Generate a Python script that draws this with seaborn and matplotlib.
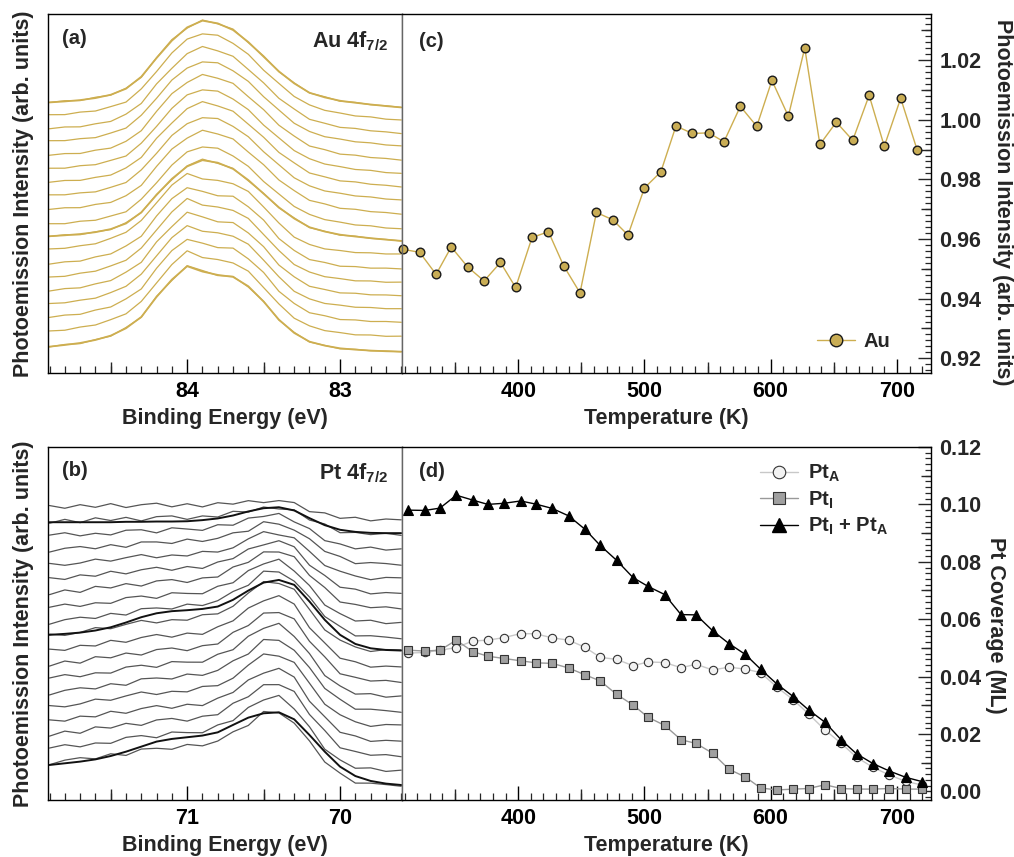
import numpy as np
import pandas as pd
import matplotlib
matplotlib.use("Agg")
import matplotlib.pyplot as plt
import seaborn as sns
from matplotlib.ticker import MultipleLocator, FormatStrFormatter
from matplotlib.lines import Line2D

sns.set_style("ticks")
plt.rcParams["font.family"] = ["Liberation Sans", "DejaVu Sans"]
plt.rcParams["font.weight"] = "bold"
plt.rcParams["axes.labelweight"] = "bold"
plt.rcParams["mathtext.fontset"] = "custom"
plt.rcParams["mathtext.bf"] = "Liberation Sans:bold"
plt.rcParams["mathtext.rm"] = "Liberation Sans:bold"

# ---------------- data: panel (a) Au 4f7/2 spectra ----------------
au_energy = [84.9, 84.8, 84.7, 84.6, 84.5, 84.4, 84.3, 84.2, 84.1, 84.0, 83.9, 83.8,
             83.7, 83.6, 83.5, 83.4, 83.3, 83.2, 83.1, 83.0, 82.9, 82.8, 82.7, 82.6]
au_profile_A = [0.375, 0.45, 0.55, 0.7, 0.95, 1.4, 2.3, 3.7, 5.0, 6.0, 6.5, 6.3,
                5.8, 4.9, 3.8, 2.7, 1.8, 1.1, 0.75, 0.5, 0.35, 0.22, 0.1, 0.0]
au_profile_B = [0.375, 0.5, 0.65, 0.875, 1.2, 1.75, 2.6, 4.1, 5.4, 6.4, 6.0, 5.75,
                5.6, 4.9, 3.75, 2.4, 1.4, 0.75, 0.45, 0.25, 0.15, 0.08, 0.03, 0.0]
au_baseline = [19.9, 18.95, 17.95, 17.0, 15.95, 14.95, 13.95, 12.95, 11.9, 10.8,
               9.9, 8.9, 7.8, 6.8, 5.8, 4.8, 3.8, 2.75, 1.6]
au_scale = [1.0, 1.0, 0.99, 0.98, 0.98, 0.97, 0.97, 0.96, 0.96, 0.95,
            0.93, 0.95, 0.96, 0.97, 0.97, 0.98, 0.98, 0.99, 1.0]
au_kind = ["A", "A", "A", "A", "A", "A", "A", "A", "A", "A",
           "A", "B", "B", "B", "B", "B", "B", "B", "B"]
au_fit_traces = [0, 10, 18]
au_wiggle = [
    [0, .05, -.04, .06, -.03, .04, -.05, .03, .08, -.06, .05, -.04, .07, -.05, .06, -.03, .04, -.02, .05, -.04, .03, -.02, .03, 0],
    [.03, -.04, .05, -.02, .06, -.05, .04, -.06, .03, .07, -.04, .06, -.05, .03, -.06, .05, -.03, .04, -.02, .03, -.04, .02, -.03, .01],
    [-.02, .04, -.05, .03, -.04, .06, -.03, .05, -.07, .04, .08, -.05, .04, -.06, .03, -.04, .05, -.03, .02, -.04, .03, -.02, .02, -.01],
    [.04, -.03, .02, -.05, .05, -.02, .06, -.04, .05, -.03, -.06, .07, -.04, .05, -.02, .06, -.05, .02, -.03, .04, -.02, .03, -.01, .02],
]

# ---------------- data: panel (b) Pt 4f7/2 spectra ----------------
pt_energy = [71.9, 71.8, 71.7, 71.6, 71.5, 71.4, 71.3, 71.2, 71.1, 71.0, 70.9, 70.8,
             70.7, 70.6, 70.5, 70.4, 70.3, 70.2, 70.1, 70.0, 69.9, 69.8, 69.7, 69.6]
pt_peak_shape = [0.0, 0.03, 0.06, 0.1, 0.14, 0.18, 0.22, 0.25, 0.27, 0.29, 0.33, 0.40,
                 0.55, 0.74, 0.93, 1.0, 0.88, 0.6, 0.33, 0.14, 0.05, 0.015, 0.0, 0.0]
pt_background = [1.0, 1.0, 1.0, 1.0, 1.0, 1.0, 1.0, 1.0, 1.0, 1.0, 0.99, 0.98,
                 0.975, 0.97, 0.93, 0.85, 0.7, 0.45, 0.25, 0.1, 0.04, 0.01, 0.0, 0.0]
pt_baseline = [20.0, 18.95, 17.9, 16.85, 15.8, 14.75, 13.7, 12.65, 11.6, 10.65,
               9.5, 8.45, 7.4, 6.35, 5.3, 4.2, 3.15, 2.1, 1.07]
pt_step = [0.9, 0.9, 0.95, 1.0, 1.0, 1.0, 1.05, 1.05, 1.1, 1.1,
           1.15, 1.2, 1.25, 1.3, 1.35, 1.4, 1.5, 1.55, 1.6]
pt_amp = [0.55, 1.15, 1.6, 2.05, 2.45, 2.85, 3.2, 3.5, 3.8, 4.05,
          4.05, 4.0, 4.0, 4.0, 4.0, 3.95, 3.9, 3.9, 3.85]
pt_wiggle = [
    [.12, -.09, .15, -.06, .18, -.12, .06, .15, -.12, .09, -.15, .12, -.06, .09, -.12, .06, .12, -.15, .09, -.06, .12, -.09, .06, 0],
    [-.09, .15, -.12, .18, -.06, .12, -.18, .09, .12, -.15, .06, -.09, .15, -.12, .06, -.09, .12, -.06, .15, -.12, .06, -.03, .09, -.06],
    [.06, .18, -.09, .03, -.15, .12, .09, -.18, .15, .03, -.12, .18, -.09, .12, -.03, .15, -.12, .09, -.15, .06, -.09, .12, -.06, .03],
    [-.15, .06, .12, -.12, .09, -.18, .12, .06, -.09, .18, -.06, .03, .12, -.15, .18, -.06, -.09, .12, -.03, .15, -.12, .06, .03, -.09],
    [.09, -.12, -.03, .15, -.09, .06, .18, -.12, .03, -.09, .15, -.06, -.12, .06, .15, -.18, .06, .03, -.12, .09, .03, -.12, .09, .06],
]
pt_fit_top = [19.83, 19.83, 19.83, 19.83, 19.83, 19.86, 19.86, 19.88, 19.88, 19.90, 19.98, 20.10,
              20.31, 20.60, 20.83, 20.90, 20.67, 20.12, 19.62, 19.29, 19.14, 19.07, 19.05, 19.05]
pt_fit_mid = [11.79, 11.86, 11.95, 12.10, 12.33, 12.67, 13.05, 13.33, 13.48, 13.55, 13.64, 13.81,
              14.29, 14.95, 15.52, 15.71, 15.36, 14.17, 12.86, 11.79, 11.14, 10.83, 10.71, 10.67]
pt_fit_bot = [2.50, 2.62, 2.74, 2.90, 3.14, 3.45, 3.81, 4.17, 4.36, 4.48, 4.60, 4.83,
              5.36, 5.88, 6.19, 6.26, 5.76, 4.64, 3.45, 2.38, 1.71, 1.36, 1.17, 1.07]

# ---------------- data: panel (c) Au intensity vs temperature ----------------
au_T = [309, 322, 335, 347, 360, 373, 386, 398, 411, 424, 436, 449, 462, 475, 487, 500, 513,
        525, 538, 551, 563, 576, 589, 601, 614, 627, 639, 652, 665, 678, 690, 703, 716]
au_I = [0.9565, 0.9555, 0.9481, 0.9573, 0.9506, 0.9459, 0.9521, 0.9437, 0.9605, 0.9624, 0.9510,
        0.9419, 0.9689, 0.9664, 0.9613, 0.9771, 0.9825, 0.9979, 0.9954, 0.9956, 0.9926, 1.0045,
        0.9978, 1.0132, 1.0012, 1.0241, 0.9917, 0.9992, 0.9931, 1.0082, 0.9911, 1.0072, 0.9899]

# ---------------- data: panel (d) Pt coverage vs temperature ----------------
pt_T = [313, 326, 338, 351, 364, 376, 389, 402, 414, 427, 440, 453, 465, 478, 491, 503, 516,
        529, 541, 554, 567, 580, 592, 605, 618, 630, 643, 656, 668, 681, 694, 707, 720]
pt_A = [0.0482, 0.0484, 0.0492, 0.0501, 0.0524, 0.0527, 0.0536, 0.0550, 0.0549, 0.0535, 0.0527,
        0.0502, 0.0467, 0.0460, 0.0438, 0.0451, 0.0449, 0.0431, 0.0443, 0.0423, 0.0433, 0.0426,
        0.0414, 0.0363, 0.0319, 0.0270, 0.0214, 0.0167, 0.0119, 0.0084, 0.0057, 0.0035, 0.0022]
pt_I = [0.0492, 0.0489, 0.0492, 0.0527, 0.0487, 0.0471, 0.0463, 0.0455, 0.0448, 0.0446, 0.0430,
        0.0406, 0.0385, 0.0338, 0.0301, 0.0258, 0.0230, 0.0180, 0.0167, 0.0133, 0.0077, 0.0050,
        0.0012, 0.0005, 0.0008, 0.0010, 0.0023, 0.0010, 0.0008, 0.0008, 0.0010, 0.0008, 0.0008]
pt_sum = [0.0980, 0.0979, 0.0987, 0.1032, 0.1015, 0.1000, 0.1004, 0.1012, 0.1001, 0.0986, 0.0960,
          0.0913, 0.0857, 0.0805, 0.0745, 0.0714, 0.0686, 0.0616, 0.0615, 0.0560, 0.0515, 0.0477,
          0.0426, 0.0374, 0.0330, 0.0284, 0.0241, 0.0179, 0.0131, 0.0097, 0.0071, 0.0049, 0.0034]

GOLD = "#CDAE50"
GOLD_FACE = "#C9AD55"
TICK_FS = 15.5
LABEL_FS = 15.5
PANEL_FS = 14.5
ELEM_FS = 15.5
LEGEND_FS = 14.5

# ---------------- build spectra frames ----------------
au_rows = []
for i in range(len(au_baseline)):
    prof = au_profile_A if au_kind[i] == "A" else au_profile_B
    vals = au_baseline[i] + au_scale[i] * np.array(prof) + np.array(au_wiggle[i % 4])
    au_rows.append(pd.DataFrame({"E": au_energy, "I": vals, "trace": i}))
au_df = pd.concat(au_rows, ignore_index=True)

au_fit_rows = []
for i in au_fit_traces:
    prof = au_profile_A if au_kind[i] == "A" else au_profile_B
    vals = au_baseline[i] + au_scale[i] * np.array(prof)
    au_fit_rows.append(pd.DataFrame({"E": au_energy, "I": vals, "trace": i}))
au_fit_df = pd.concat(au_fit_rows, ignore_index=True)

pt_rows = []
for i in range(len(pt_baseline)):
    vals = (pt_baseline[i] + pt_step[i] * np.array(pt_background)
            + pt_amp[i] * np.array(pt_peak_shape) + np.array(pt_wiggle[i % 5]))
    pt_rows.append(pd.DataFrame({"E": pt_energy, "I": vals, "trace": i}))
pt_df = pd.concat(pt_rows, ignore_index=True)

pt_fit_df = pd.concat([
    pd.DataFrame({"E": pt_energy, "I": pt_fit_top, "trace": 0}),
    pd.DataFrame({"E": pt_energy, "I": pt_fit_mid, "trace": 1}),
    pd.DataFrame({"E": pt_energy, "I": pt_fit_bot, "trace": 2}),
], ignore_index=True)

# ---------------- figure ----------------
W, H = 1014, 857
fig = plt.figure(figsize=(W / 100, H / 100), dpi=100)


def px_axes(x0, y0, x1, y1):
    return fig.add_axes([x0 / W, (H - y1) / H, (x1 - x0) / W, (y1 - y0) / H])


axa = px_axes(48, 14, 402, 373)
axc = px_axes(402, 14, 931, 373)
axb = px_axes(48, 447, 402, 800)
axd = px_axes(402, 447, 931, 800)


def style_common(ax):
    for s in ax.spines.values():
        s.set_linewidth(1.0)
        s.set_color("black")
    ax.tick_params(axis="x", which="major", direction="in", length=10, width=1.0,
                   labelsize=TICK_FS, pad=6, top=False, bottom=True, colors="black")
    ax.tick_params(axis="x", which="minor", direction="in", length=4.8, width=0.9,
                   top=False, bottom=True)


def add_mid_xticks(ax, locs):
    sec = ax.secondary_xaxis("bottom")
    sec.set_xticks(locs)
    sec.set_xticklabels([""] * len(locs))
    sec.tick_params(axis="x", direction="in", length=7.7, width=1.0)
    sec.spines["bottom"].set_visible(False)


def add_mid_yticks(ax, locs):
    sec = ax.secondary_yaxis("right")
    sec.set_yticks(locs)
    sec.set_yticklabels([""] * len(locs))
    sec.tick_params(axis="y", direction="in", length=7.2, width=1.0)
    sec.spines["right"].set_visible(False)


# ----- (a) -----
sns.lineplot(data=au_df, x="E", y="I", units="trace", estimator=None, sort=False,
             color=GOLD, lw=0.9, ax=axa, legend=False)
sns.lineplot(data=au_fit_df, x="E", y="I", units="trace", estimator=None, sort=False,
             color=GOLD, lw=1.3, ax=axa, legend=False)
axa.set_xlim(84.91, 82.595)
axa.set_ylim(0, 26.9)

# ----- (b) -----
sns.lineplot(data=pt_df, x="E", y="I", units="trace", estimator=None, sort=False,
             color="#555555", lw=0.9, ax=axb, legend=False)
sns.lineplot(data=pt_fit_df, x="E", y="I", units="trace", estimator=None, sort=False,
             color="#111111", lw=1.4, ax=axb, legend=False)
axb.set_xlim(71.91, 69.595)
axb.set_ylim(0, 25.2)

for ax, lab, elem in [(axa, "(a)", r"Au 4f$_\mathbf{7/2}$"), (axb, "(b)", r"Pt 4f$_\mathbf{7/2}$")]:
    style_common(ax)
    ax.xaxis.set_major_locator(MultipleLocator(1))
    ax.xaxis.set_minor_locator(MultipleLocator(0.1))
    ax.xaxis.set_major_formatter(FormatStrFormatter("%d"))
    add_mid_xticks(ax, [ax.get_xlim()[0] // 1 + 0.5, ax.get_xlim()[0] // 1 - 0.5])
    ax.set_yticks([])
    ax.tick_params(axis="y", which="both", left=False, right=False, labelleft=False)
    ax.spines["right"].set_color("#666666")
    ax.set_xlabel("Binding Energy (eV)", fontsize=LABEL_FS, labelpad=4)
    ax.set_ylabel("Photoemission Intensity (arb. units)", fontsize=LABEL_FS, labelpad=10)
    ax.text(0.04, 0.917, lab, transform=ax.transAxes, fontsize=PANEL_FS,
            fontweight="bold", ha="left", va="baseline")
    ax.text(0.96, 0.908, elem, transform=ax.transAxes, fontsize=ELEM_FS,
            fontweight="bold", ha="right", va="baseline")

# ----- (c) -----
sns.lineplot(x=au_T, y=au_I, ax=axc, color=GOLD, lw=1.0, marker="o", markersize=6.2,
             markerfacecolor=GOLD_FACE, markeredgecolor="#1a1a1a", markeredgewidth=1.0,
             legend=False, clip_on=False)
axc.set_xlim(308, 727)
axc.set_ylim(0.915, 1.0355)
axc.yaxis.set_major_locator(MultipleLocator(0.02))
axc.yaxis.set_minor_locator(MultipleLocator(0.002))
axc.yaxis.set_major_formatter(FormatStrFormatter("%.2f"))
add_mid_yticks(axc, [0.93, 0.95, 0.97, 0.99, 1.01, 1.03])
axc.text(0.032, 0.908, "(c)", transform=axc.transAxes, fontsize=PANEL_FS,
         fontweight="bold", ha="left", va="baseline")
au_handle = Line2D([], [], color=GOLD, lw=1.0, marker="o", markersize=9,
                   markerfacecolor=GOLD_FACE, markeredgecolor="#1a1a1a", markeredgewidth=1.0)
axc.legend([au_handle], ["Au"], loc="center left", bbox_to_anchor=(0.784, 0.089),
           frameon=False, fontsize=LEGEND_FS, handlelength=1.9, handletextpad=0.4,
           borderpad=0, borderaxespad=0)

# ----- (d) -----
sns.lineplot(x=pt_T, y=pt_A, ax=axd, color="#C8C8C8", lw=1.0, marker="o", markersize=6,
             markerfacecolor="#F2F2F2", markeredgecolor="#333333", markeredgewidth=0.8,
             legend=False, clip_on=False)
sns.lineplot(x=pt_T, y=pt_I, ax=axd, color="#999999", lw=1.0, marker="s", markersize=6,
             markerfacecolor="#A0A0A0", markeredgecolor="#333333", markeredgewidth=0.8,
             legend=False, clip_on=False)
sns.lineplot(x=pt_T, y=pt_sum, ax=axd, color="black", lw=1.0, marker="^", markersize=7,
             markerfacecolor="black", markeredgecolor="black", markeredgewidth=0.8,
             legend=False, clip_on=False)
axd.set_xlim(308, 727)
axd.set_ylim(-0.003, 0.12)
axd.yaxis.set_major_locator(MultipleLocator(0.02))
axd.yaxis.set_minor_locator(MultipleLocator(0.002))
axd.yaxis.set_major_formatter(FormatStrFormatter("%.2f"))
add_mid_yticks(axd, [0.01, 0.03, 0.05, 0.07, 0.09, 0.11])
axd.text(0.032, 0.916, "(d)", transform=axd.transAxes, fontsize=PANEL_FS,
         fontweight="bold", ha="left", va="baseline")
h_A = Line2D([], [], color="#C8C8C8", lw=1.0, marker="o", markersize=9,
             markerfacecolor="#F2F2F2", markeredgecolor="#333333", markeredgewidth=0.8)
h_I = Line2D([], [], color="#999999", lw=1.0, marker="s", markersize=9,
             markerfacecolor="#A0A0A0", markeredgecolor="#333333", markeredgewidth=0.8)
h_S = Line2D([], [], color="black", lw=1.0, marker="^", markersize=10,
             markerfacecolor="black", markeredgecolor="black")
axd.legend([h_A, h_I, h_S],
           [r"Pt$_\mathbf{A}$", r"Pt$_\mathbf{I}$", r"Pt$_\mathbf{I}$ + Pt$_\mathbf{A}$"],
           loc="upper left", bbox_to_anchor=(0.676, 0.955), frameon=False,
           fontsize=LEGEND_FS, handlelength=1.9, handletextpad=0.5, labelspacing=0.25,
           borderpad=0, borderaxespad=0)

for ax in (axc, axd):
    style_common(ax)
    ax.xaxis.set_major_locator(MultipleLocator(100))
    ax.xaxis.set_minor_locator(MultipleLocator(10))
    add_mid_xticks(ax, [350, 450, 550, 650])
    ax.yaxis.tick_right()
    ax.yaxis.set_label_position("right")
    ax.tick_params(axis="y", which="major", direction="in", length=9.4, width=1.0,
                   left=False, right=True, labelleft=False, labelright=True,
                   labelsize=TICK_FS, pad=6)
    ax.tick_params(axis="y", which="minor", direction="in", length=4.3, width=0.9,
                   left=False, right=True)
    ax.spines["left"].set_color("#666666")
    ax.set_xlabel("Temperature (K)", fontsize=LABEL_FS, labelpad=4)

axc.set_ylabel("Photoemission Intensity (arb. units)", fontsize=LABEL_FS,
               rotation=270, va="bottom")
axc.yaxis.set_label_coords(1.115, 0.475)
axd.set_ylabel("Pt Coverage (ML)", fontsize=LABEL_FS, rotation=270, va="bottom")
axd.yaxis.set_label_coords(1.103, 0.495)

fig.savefig("out.png", dpi=100)
